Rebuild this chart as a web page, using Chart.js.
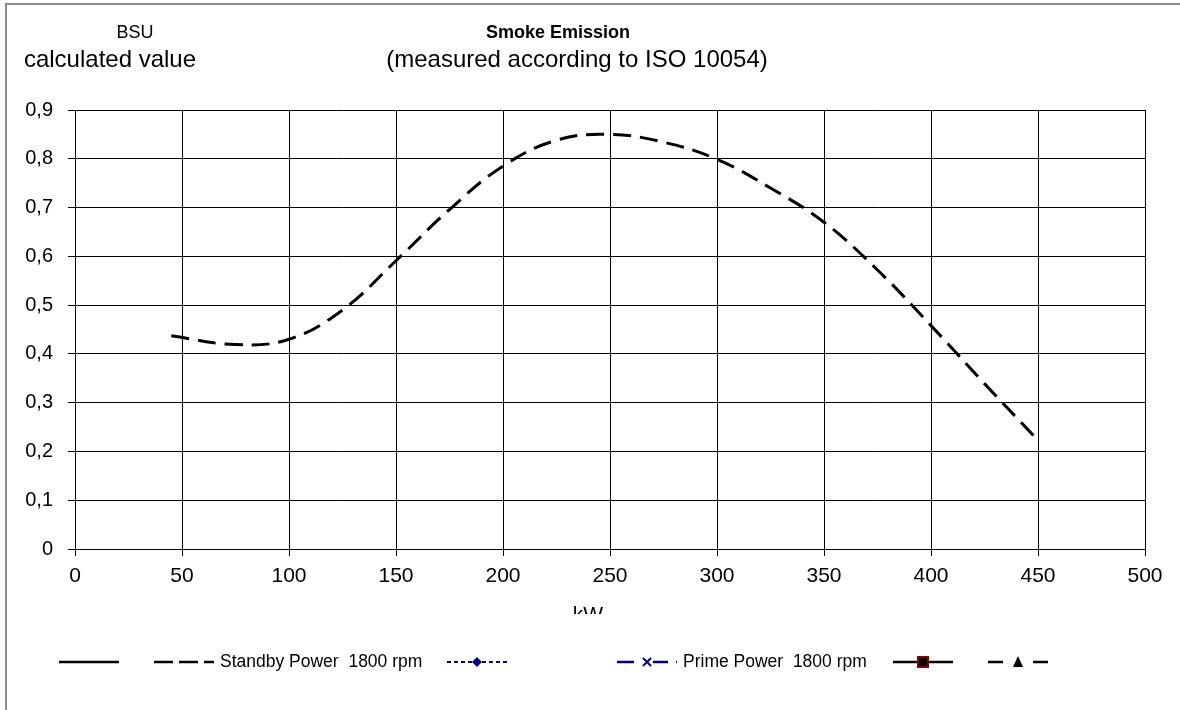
<!DOCTYPE html>
<html>
<head>
<meta charset="utf-8">
<script src="https://cdn.jsdelivr.net/npm/chart.js@4/dist/chart.umd.min.js"></script>
<style>
body { margin: 0; background: #fff; }
</style>
</head>
<body>
<canvas id="smoke" width="1180" height="710"></canvas>
<script>
// values
const kwValues = [45, 75, 100, 125, 150, 175, 200, 225, 250, 275, 300, 325, 350, 375, 400, 425, 450];
const standbyBsu = [0.437, 0.419, 0.430, 0.490, 0.591, 0.696, 0.785, 0.838, 0.850, 0.834, 0.799, 0.740, 0.670, 0.572, 0.458, 0.339, 0.223];
const yTickLabels = ['0', '0,1', '0,2', '0,3', '0,4', '0,5', '0,6', '0,7', '0,8', '0,9'];
const seriesNames = ['', 'Standby Power  1800 rpm', '', 'Prime Power  1800 rpm', '', ''];

const FONT = "'Liberation Sans', Arial, sans-serif";
const legendStarts = [59, 154, 447, 617, 893, 988];

function toPoints(xs, ys) {
    return xs.map((x, i) => ({ x: x, y: ys[i] }));
}

function drawMarker(ctx, ds, x, y) {
    ctx.setLineDash([]);
    if (ds.marker === 'diamond') {
        ctx.fillStyle = ds.borderColor;
        ctx.beginPath();
        ctx.moveTo(x, y - 5); ctx.lineTo(x + 5, y); ctx.lineTo(x, y + 5); ctx.lineTo(x - 5, y);
        ctx.closePath(); ctx.fill();
    } else if (ds.marker === 'cross') {
        ctx.strokeStyle = ds.borderColor;
        ctx.lineWidth = 2;
        ctx.beginPath();
        ctx.moveTo(x - 4, y - 4); ctx.lineTo(x + 4, y + 4);
        ctx.moveTo(x + 4, y - 4); ctx.lineTo(x - 4, y + 4);
        ctx.stroke();
    } else if (ds.marker === 'square') {
        ctx.fillStyle = '#000';
        ctx.fillRect(x - 5, y - 5, 10, 10);
        ctx.strokeStyle = '#8b0000';
        ctx.lineWidth = 2;
        ctx.strokeRect(x - 5, y - 5, 10, 10);
    } else if (ds.marker === 'triangle') {
        ctx.fillStyle = '#000';
        ctx.beginPath();
        ctx.moveTo(x, y - 6); ctx.lineTo(x + 5, y + 5); ctx.lineTo(x - 5, y + 5);
        ctx.closePath(); ctx.fill();
    }
}

const decorPlugin = {
    id: 'decor',
    afterDraw(chart) {
        const ctx = chart.ctx;
        ctx.save();
        // outer frame (left and top edges visible)
        ctx.fillStyle = '#8c8c8c';
        ctx.fillRect(5, 3, 2, 710);
        ctx.fillRect(5, 3, 1175, 2);

        ctx.fillStyle = '#000';
        ctx.textAlign = 'center';
        ctx.textBaseline = 'alphabetic';
        ctx.font = '18px ' + FONT;
        ctx.fillText('BSU', 135, 38);
        ctx.font = 'bold 18px ' + FONT;
        ctx.fillText('Smoke Emission', 558, 38);
        ctx.font = '24px ' + FONT;
        ctx.fillText('calculated value', 110, 67);
        ctx.fillText('(measured according to ISO 10054)', 577, 67);

        // x axis title, clipped by the legend band like in the original
        ctx.save();
        ctx.beginPath();
        ctx.rect(0, 0, 1180, 614);
        ctx.clip();
        ctx.font = '21px ' + FONT;
        ctx.fillText('kW', 588, 621);
        ctx.restore();

        // legend
        chart.data.datasets.forEach((ds, i) => {
            const x0 = legendStarts[i], y = 662;
            ctx.strokeStyle = ds.borderColor;
            ctx.lineWidth = ds.legendWidth;
            ctx.setLineDash(ds.legendDash);
            ctx.beginPath();
            ctx.moveTo(x0, y);
            ctx.lineTo(x0 + 60, y);
            ctx.stroke();
            drawMarker(ctx, ds, x0 + 30, y);
            if (ds.label) {
                ctx.fillStyle = '#000';
                ctx.font = '17.5px ' + FONT;
                ctx.textAlign = 'left';
                ctx.textBaseline = 'middle';
                ctx.fillText(ds.label, x0 + 66, y);
            }
        });
        ctx.restore();
    }
};

new Chart(document.getElementById('smoke'), {
    type: 'line',
    data: {
        datasets: [
            { label: seriesNames[0], data: [], borderColor: '#000', borderWidth: 2.5, legendWidth: 2.5, legendDash: [], marker: null },
            { label: seriesNames[1], data: toPoints(kwValues, standbyBsu), borderColor: '#000', borderWidth: 3,
              borderDash: [18, 9], tension: 0.4, pointRadius: 0,
              legendWidth: 2.5, legendDash: [19, 6], marker: null },
            { label: seriesNames[2], data: [], borderColor: '#000080', borderWidth: 2, legendWidth: 2, legendDash: [4, 3], marker: 'diamond' },
            { label: seriesNames[3], data: [], borderColor: '#000080', borderWidth: 2.5, legendWidth: 2.5, legendDash: [17, 19, 15, 8, 2, 10], marker: 'cross' },
            { label: seriesNames[4], data: [], borderColor: '#000', borderWidth: 2.5, legendWidth: 2.5, legendDash: [], marker: 'square' },
            { label: seriesNames[5], data: [], borderColor: '#000', borderWidth: 2.5, legendWidth: 2.5, legendDash: [15, 30], marker: 'triangle' }
        ]
    },
    options: {
        responsive: false,
        animation: false,
        devicePixelRatio: 1,
        layout: { padding: { left: 0, right: 35, top: 110, bottom: 100 } },
        plugins: { legend: { display: false }, tooltip: { enabled: false } },
        scales: {
            x: {
                type: 'linear',
                min: 0, max: 500,
                ticks: { stepSize: 50, color: '#000', padding: 8, maxRotation: 0, font: { family: FONT, size: 21 } },
                grid: { color: '#000', lineWidth: 1, tickLength: 7 },
                border: { color: '#000', width: 1 },
                afterFit(scale) { scale.height = 61; }
            },
            y: {
                min: 0, max: 0.9,
                ticks: { stepSize: 0.1, color: '#000', padding: 15, font: { family: FONT, size: 20 },
                         callback: (v, i) => yTickLabels[i] },
                grid: { color: '#000', lineWidth: 1, tickLength: 7 },
                border: { color: '#000', width: 1 },
                afterFit(scale) { scale.width = 75; }
            }
        }
    },
    plugins: [decorPlugin]
});
</script>
</body>
</html>
